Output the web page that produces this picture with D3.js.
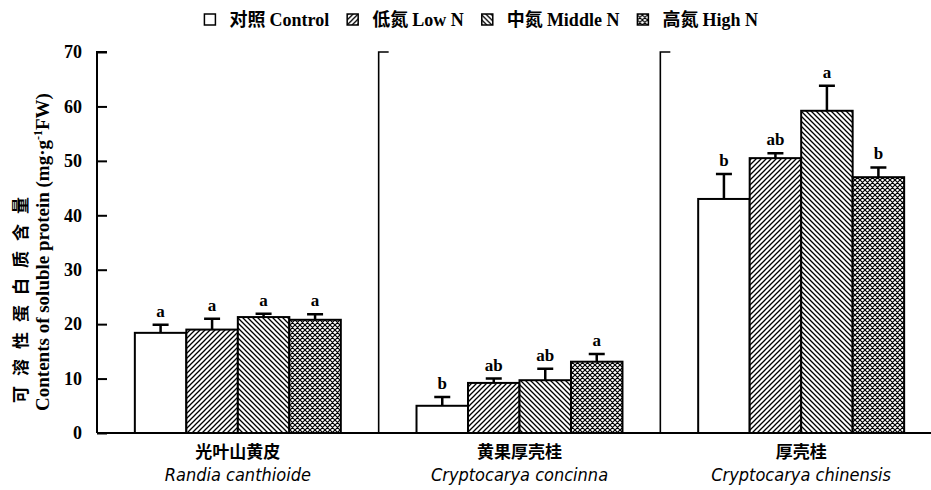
<!DOCTYPE html>
<html>
<head>
<meta charset="utf-8">
<script src="https://cdn.jsdelivr.net/npm/d3@7"></script>
<style>
  body { margin: 0; background: #fff; }
  svg { display: block; }
</style>
</head>
<body>
<svg id="chart"></svg>
<script>
// Data
const groupsCn = ["光叶山黄皮", "黄果厚壳桂", "厚壳桂"];
const groupsLatin = ["Randia canthioide", "Cryptocarya concinna", "Cryptocarya chinensis"];
const seriesNames = ["对照 Control", "低氮 Low N", "中氮 Middle N", "高氮 High N"];
const control = [18.4, 5.0, 43.0];
const lowN = [19.0, 9.2, 50.5];
const middleN = [21.3, 9.7, 59.2];
const highN = [20.8, 13.1, 47.0];
const controlErr = [1.5, 1.6, 4.6];
const lowNErr = [2.0, 0.8, 0.9];
const middleNErr = [0.6, 2.1, 4.6];
const highNErr = [1.0, 1.4, 1.8];
const letters = [["a", "a", "a", "a"], ["b", "ab", "ab", "a"], ["b", "ab", "a", "b"]];
const yTicks = [0, 10, 20, 30, 40, 50, 60, 70];

const width = 931;
const height = 490;
const margin = { top: 52, right: -11, bottom: 57, left: 97 };

const svg = d3.select("#chart")
    .attr("width", width)
    .attr("height", height);

// patterns
const defs = svg.append("defs");
function hatch(id, size, d, sw) {
    defs.append("pattern")
        .attr("id", id)
        .attr("patternUnits", "userSpaceOnUse")
        .attr("width", size)
        .attr("height", size)
        .call(p => p.append("rect").attr("width", size).attr("height", size).attr("fill", "#fff"))
        .append("path")
        .attr("d", d)
        .attr("stroke", "#000")
        .attr("stroke-width", sw)
        .attr("fill", "none");
}
const s = 5;
hatch("lowN", s, `M0,${s} L${s},0 M${-s/2},${s/2} L${s/2},${-s/2} M${s/2},${s*1.5} L${s*1.5},${s/2}`, 1.3);
hatch("midN", s, `M0,0 L${s},${s} M${-s/2},${s/2} L${s/2},${s*1.5} M${s/2},${-s/2} L${s*1.5},${s/2}`, 1.3);
hatch("highN", s, `M0,0 L${s},${s} M0,${s} L${s},0 M${-s/2},${s/2} L${s/2},${-s/2} M${s/2},${s*1.5} L${s*1.5},${s/2} M${-s/2},${s/2} L${s/2},${s*1.5} M${s/2},${-s/2} L${s*1.5},${s/2}`, 1.2);
const fills = ["#fff", "url(#lowN)", "url(#midN)", "url(#highN)"];

const values = [control, lowN, middleN, highN];
const errs = [controlErr, lowNErr, middleNErr, highNErr];

const x0 = d3.scaleBand()
    .domain(groupsCn)
    .range([margin.left, width - margin.right])
    .padding(0);

const x1 = d3.scaleBand()
    .domain(seriesNames)
    .range([0, x0.bandwidth()])
    .paddingInner(0)
    .paddingOuter(0.735);

const yScale = d3.scaleLinear()
    .domain([0, 70])
    .range([height - margin.bottom, margin.top]);

const serif = "'Liberation Serif', 'Times New Roman', serif";
const cjk = "'Noto Sans CJK SC', sans-serif";

// bars
const rows = [];
groupsCn.forEach((g, gi) => {
    seriesNames.forEach((sName, si) => {
        rows.push({ g, gi, sName, si, v: values[si][gi], e: errs[si][gi], letter: letters[gi][si] });
    });
});

const barG = svg.append("g");
barG.selectAll(".err")
    .data(rows)
    .enter()
    .append("path")
    .attr("class", "err")
    .attr("d", d => {
        const cx = x0(d.g) + x1(d.sName) + x1.bandwidth() / 2;
        const yt = yScale(d.v + d.e);
        return `M${cx},${yScale(d.v)} V${yt} M${cx - 8},${yt} H${cx + 8}`;
    })
    .attr("stroke", "#000")
    .attr("stroke-width", 2.5)
    .attr("fill", "none");

barG.selectAll(".bar")
    .data(rows)
    .enter()
    .append("rect")
    .attr("class", "bar")
    .attr("x", d => x0(d.g) + x1(d.sName))
    .attr("y", d => yScale(d.v))
    .attr("width", x1.bandwidth())
    .attr("height", d => yScale(0) - yScale(d.v))
    .attr("fill", d => fills[d.si])
    .attr("stroke", "#000")
    .attr("stroke-width", 2);

barG.selectAll(".letter")
    .data(rows)
    .enter()
    .append("text")
    .attr("class", "letter")
    .attr("x", d => x0(d.g) + x1(d.sName) + x1.bandwidth() / 2)
    .attr("y", d => yScale(d.v + d.e) - 8)
    .attr("text-anchor", "middle")
    .style("font-family", serif)
    .style("font-weight", "bold")
    .style("font-size", "17px")
    .text(d => d.letter);

// y axis with inward ticks
const yAxis = d3.axisLeft(yScale)
    .tickValues(yTicks)
    .tickSize(-10)
    .tickPadding(15);
svg.append("g")
    .attr("transform", `translate(${margin.left}, 0)`)
    .call(yAxis)
    .call(g => g.select(".domain").remove())
    .call(g => g.selectAll(".tick line").attr("stroke-width", 2))
    .call(g => g.selectAll(".tick text")
        .style("font-family", serif)
        .style("font-weight", "bold")
        .style("font-size", "18px")
        .attr("fill", "#000"));

// vertical panel lines (axis + separators)
[0, 1, 2].forEach(i => {
    const xv = x0(groupsCn[i]);
    svg.append("path")
        .attr("d", `M${xv},${yScale(0)} V${yScale(70)} H${xv + 10}`)
        .attr("stroke", "#000")
        .attr("stroke-width", i === 0 ? 2 : 1.6)
        .attr("fill", "none");
});

// x axis line
svg.append("line")
    .attr("x1", margin.left)
    .attr("x2", width)
    .attr("y1", yScale(0))
    .attr("y2", yScale(0))
    .attr("stroke", "#000")
    .attr("stroke-width", 2.2);

// category labels
const catG = svg.append("g");
groupsCn.forEach((g, i) => {
    const cx = x0(g) + x0.bandwidth() / 2;
    catG.append("text")
        .attr("x", cx)
        .attr("y", 458)
        .attr("text-anchor", "middle")
        .style("font-family", cjk)
        .style("font-weight", "bold")
        .style("font-size", "17px")
        .text(g);
    catG.append("text")
        .attr("x", cx)
        .attr("y", 481)
        .attr("text-anchor", "middle")
        .style("font-family", "'Liberation Sans Narrow', 'DejaVu Sans Condensed', sans-serif")
        .style("font-style", "italic")
        .style("font-size", "18px")
        .text(groupsLatin[i]);
});

// y axis title
svg.append("text")
    .attr("transform", "translate(27, 295) rotate(-90)")
    .attr("text-anchor", "middle")
    .style("font-family", cjk)
    .style("font-weight", "bold")
    .style("font-size", "17px")
    .style("letter-spacing", "10px")
    .text("可溶性蛋白质含量");

const t2 = svg.append("text")
    .attr("transform", "translate(49, 252) rotate(-90)")
    .attr("text-anchor", "middle")
    .style("font-family", serif)
    .style("font-weight", "bold")
    .style("font-size", "19px");
t2.append("tspan").text("Contents of soluble protein (mg·g");
t2.append("tspan").attr("dy", -7).style("font-size", "12px").text("-1");
t2.append("tspan").attr("dy", 7).text("FW)");

// legend, right end measured at x = 758
const legend = svg.append("g");
let lx = 0;
seriesNames.forEach((name, i) => {
    const item = legend.append("g").attr("transform", `translate(${lx}, 0)`);
    item.append("rect")
        .attr("x", 0)
        .attr("y", 14)
        .attr("width", 11)
        .attr("height", 11)
        .attr("fill", fills[i])
        .attr("stroke", "#000")
        .attr("stroke-width", 1.5);
    const cn = name.split(" ")[0];
    const en = name.slice(cn.length + 1);
    const t = item.append("text")
        .attr("x", 25)
        .attr("y", 26)
        .style("font-size", "18px")
        .style("font-weight", "bold");
    t.append("tspan").style("font-family", cjk).text(cn + " ");
    t.append("tspan").style("font-family", serif).text(en);
    lx += 25 + t.node().getComputedTextLength() + 18;
});
legend.attr("transform", `translate(${758 - (lx - 18)}, 0)`);
</script>
</body>
</html>
